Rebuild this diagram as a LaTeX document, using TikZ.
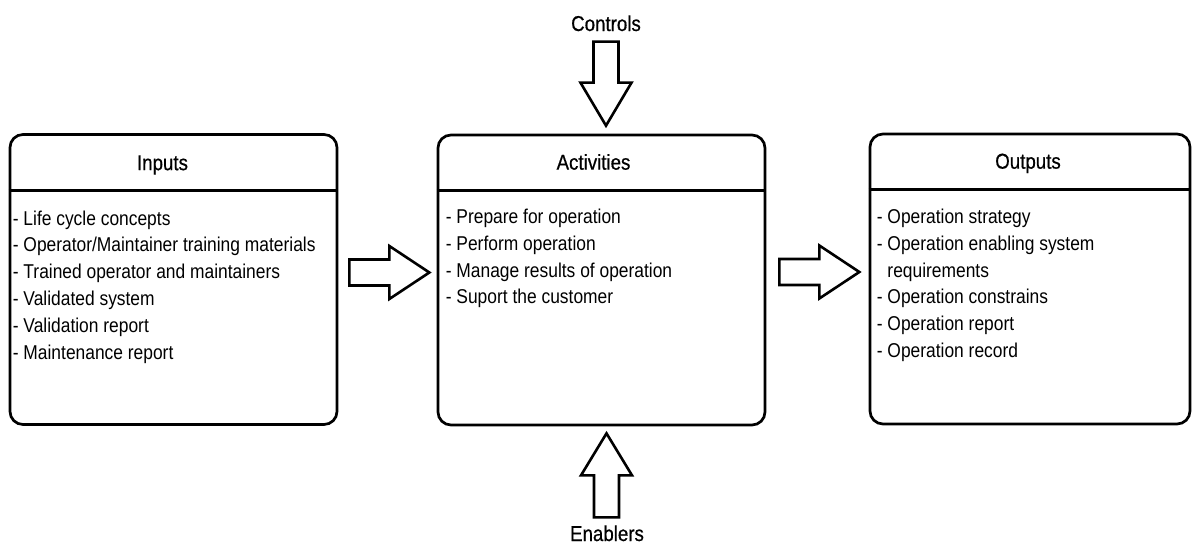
\documentclass[tikz,border=0pt]{standalone}
\usepackage{fontspec}
\setmainfont[FakeStretch=0.87]{Liberation Sans}
\newfontfamily\ttlfont[FakeStretch=0.87, FakeBold=0.6]{Liberation Sans}
\usetikzlibrary{calc}
\begin{document}
\begin{tikzpicture}[x=1pt,y=-1pt,
  box/.style={draw=black, line width=2.7pt, rounded corners=13pt, minimum width=#1, minimum height=290pt, inner sep=0pt},
  sep/.style={draw=black, line width=2.7pt},
  blk/.style={draw=black, line width=2.6pt, fill=white, line join=miter},
  ttl/.style={font=\ttlfont\fontsize{21.5}{24}\selectfont, inner sep=0pt, anchor=base},
  item/.style={font=\fontsize{20}{23}\selectfont, inner sep=0pt, anchor=base west},
  pics/barrow/.style n args={4}{code={
    \draw[blk] (0,-#1) -- (#4-#3,-#1) -- (#4-#3,-#2) -- (#4,0) -- (#4-#3,#2) -- (#4-#3,#1) -- (0,#1) -- cycle;}}
]
\useasboundingbox (0,0) rectangle (1192,544);

% boxes
\node[box=327pt] (inp) at (173.5,279.5) {};
\node[box=327pt] (act) at (601.5,280) {};
\node[box=320pt] (out) at (1030,279) {};

% separators
\draw[sep] ($(inp.north west)+(0,57)$) -- ($(inp.north east)+(0,57)$);
\draw[sep] ($(act.north west)+(0,57)$) -- ($(act.north east)+(0,57)$);
\draw[sep] ($(out.north west)+(0,57)$) -- ($(out.north east)+(0,57)$);

% titles
\node[ttl] (inpT) at ($(inp.north)+(-11,37)$) {Inputs};
\node[ttl] (actT) at ($(act.north)+(-8,36)$) {Activities};
\node[ttl] (outT) at ($(out.north)+(-2,36)$) {Outputs};

% items
\foreach \t [count=\i] in {- Life cycle concepts, - Operator/Maintainer training materials, - Trained operator and maintainers, - Validated system, - Validation report, - Maintenance report}
  \node[item] (inp-\i) at ($(inp.north west)+(4,92+26.8*\i-26.8)$) {\t};
\foreach \t [count=\i] in {- Prepare for operation, - Perform operation, - Manage results of operation, - Suport the customer}
  \node[item] (act-\i) at ($(act.north west)+(9,90+26.7*\i-26.7)$) {\t};
\foreach \t [count=\i] in {- Operation strategy, - Operation enabling system, \hphantom{-\ }requirements, - Operation constrains, - Operation report, - Operation record}
  \node[item] (out-\i) at ($(out.north west)+(8,91+26.7*\i-26.7)$) {\t};

% labels
\node[ttl] (ctl) at (606,31) {Controls};
\node[ttl] (enb) at (607,541) {Enablers};

% block arrows
\pic at ($(inp.east)+(11,-7)$) {barrow={13}{26.5}{40}{80}};
\pic at ($(act.east)+(13,-8)$) {barrow={13}{26.5}{40}{80}};
\pic[rotate=-90] at ($(act.north)+(4.5,-92)$) {barrow={12.5}{25.5}{43}{84}};
\pic[rotate=90] at ($(act.south)+(5,91)$) {barrow={12.5}{25.5}{42}{84}};
\end{tikzpicture}
\end{document}
